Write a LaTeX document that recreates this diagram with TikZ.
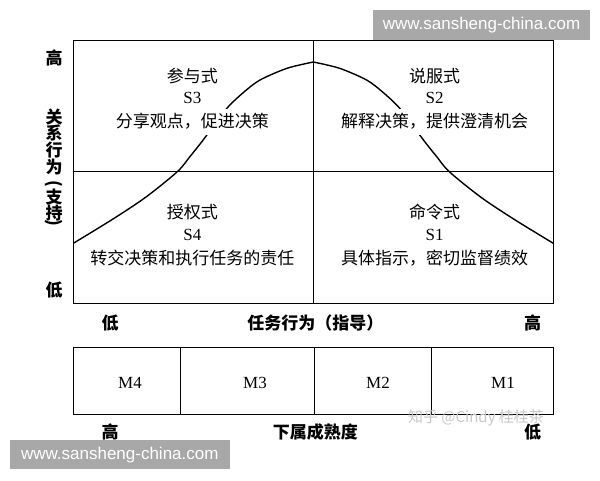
\documentclass[tikz,border=0pt]{standalone}
\usepackage{fontspec}
\setmainfont{Liberation Serif}
\newfontfamily\cjk{Noto Sans CJK SC}
\newfontfamily\wmfont{Liberation Sans}
\usepackage{tikz}
\tikzset{quadtext/.style={inner sep=0pt,font=\fontsize{17}{17}\selectfont\cjk},
    quadcode/.style={inner sep=0pt,font=\fontsize{17}{17}\selectfont},
    quaddesc/.style={fill=white,inner xsep=1pt,inner ysep=5pt,
        font=\fontsize{17}{17}\selectfont\cjk},
    axislabel/.style={inner sep=0pt,font=\fontsize{17}{17}\selectfont\cjk\bfseries},
    mlabel/.style={inner sep=0pt,font=\fontsize{17}{17}\selectfont},
    frame/.style={draw,line width=1pt},
    bell/.style={draw,line width=1.4pt,line join=round},
    watermark/.style={text=white,font=\fontsize{17}{17}\selectfont\wmfont}}
\newcommand{\lparen}{(}
\newcommand{\rparen}{)}

\begin{document}
\begin{tikzpicture}[x=1pt,y=-1pt]
            \useasboundingbox (0,0) rectangle (600,480);
            % quadrant frame
            \coordinate (tl) at (73.3,40.7);
            \coordinate (br) at (553.3,303.3);
            \coordinate (mid) at (313.3,171.7);
            \draw[frame] (tl) rectangle (br);
            \draw[frame] (tl -| mid) -- (br -| mid);
            \draw[frame] (tl |- mid) -- (br |- mid);
            % bell curve
            \draw[bell] plot[smooth] coordinates {(73.3,243.3) (113,219) (146,197)
                (177.3,171.7) (190,156.5) (202,141.5) (215,124) (228.3,106.7) (244,92)
                (260,80) (287,68.3) (313.3,62)};
            \draw[bell] plot[smooth] coordinates {(313.3,62) (339.6,68.3) (366.6,80)
                (382.6,92) (398.3,106.7) (411.6,124) (424.6,141.5) (436.6,156.5)
                (449.3,171.7) (480.6,197) (513.6,219) (553.3,243.3)};
            % quadrant texts
            \node[quadtext] (s3name) at (192.3,76) {参与式};
            \node[quadcode] (s3) at (192.3,97.7) {S3};
            \node[quaddesc] (s3desc) at (192.3,121.7) {分享观点，促进决策};
            \node[quadtext] (s2name) at (434.6,76) {说服式};
            \node[quadcode] (s2) at (434.6,97.7) {S2};
            \node[quaddesc] (s2desc) at (434.6,121.7) {解释决策，提供澄清机会};
            \node[quadtext] (s4name) at (192.3,211.7) {授权式};
            \node[quadcode] (s4) at (192.3,235) {S4};
            \node[quaddesc] (s4desc) at (192.3,258.3) {转交决策和执行任务的责任};
            \node[quadtext] (s1name) at (434.6,211.7) {命令式};
            \node[quadcode] (s1) at (434.6,235) {S1};
            \node[quaddesc] (s1desc) at (434.6,258.3) {具体指示，密切监督绩效};
            % vertical axis
            \node[axislabel] (yhigh) at (54,58) {高};
            \node[axislabel] (ylow) at (54,290) {低};
            \foreach \ch/\y/\r [count=\i] in {关/116.7/0, 系/133.4/0, 行/150/0, 为/166.7/0,
                \lparen/184/-90, 支/197/0, 持/213/0, \rparen/223/-90}
                \node[axislabel,rotate=\r] (ytext\i) at (54,\y) {\ch};
            % horizontal axis
            \node[axislabel] (xlow) at (110,323.3) {低};
            \node[axislabel] (xtext) at (315.4,323.3) {任务行为（指导）};
            \node[axislabel] (xhigh) at (532.7,323.3) {高};
            % maturity scale
            \coordinate (mtl) at (73.3,347.3);
            \coordinate (mbr) at (553.3,414.3);
            \draw[frame] (mtl) rectangle (mbr);
            \draw[frame] (180,347.3) -- (180,414.3);
            \draw[frame] (314,347.3) -- (314,414.3);
            \draw[frame] (431.7,347.3) -- (431.7,414.3);
            \node[mlabel] (m4) at (130,383.3) {M4};
            \node[mlabel] (m3) at (255,383.3) {M3};
            \node[mlabel] (m2) at (378,383.3) {M2};
            \node[mlabel] (m1) at (503,383.3) {M1};
            \node[axislabel] (mhigh) at (110,431.7) {高};
            \node[axislabel] (mtext) at (315.4,431.7) {下属成熟度};
            \node[axislabel] (mlow) at (532.7,431.7) {低};
            % watermarks
            \fill[black!34] (373,10) rectangle (590,39.5);
            \node[watermark] (wm1) at (481.5,24.8) {www.sansheng-china.com};
            \fill[black!34] (9.6,440) rectangle (230,469.3);
            \node[watermark] (wm2) at (119.8,454.7) {www.sansheng-china.com};
            \node[text=black!22,font=\fontsize{15}{15}\selectfont\cjk] (wm3) at (476,418.3) {知乎 @Cindy 桂桂茶};
        \end{tikzpicture}
\end{document}
